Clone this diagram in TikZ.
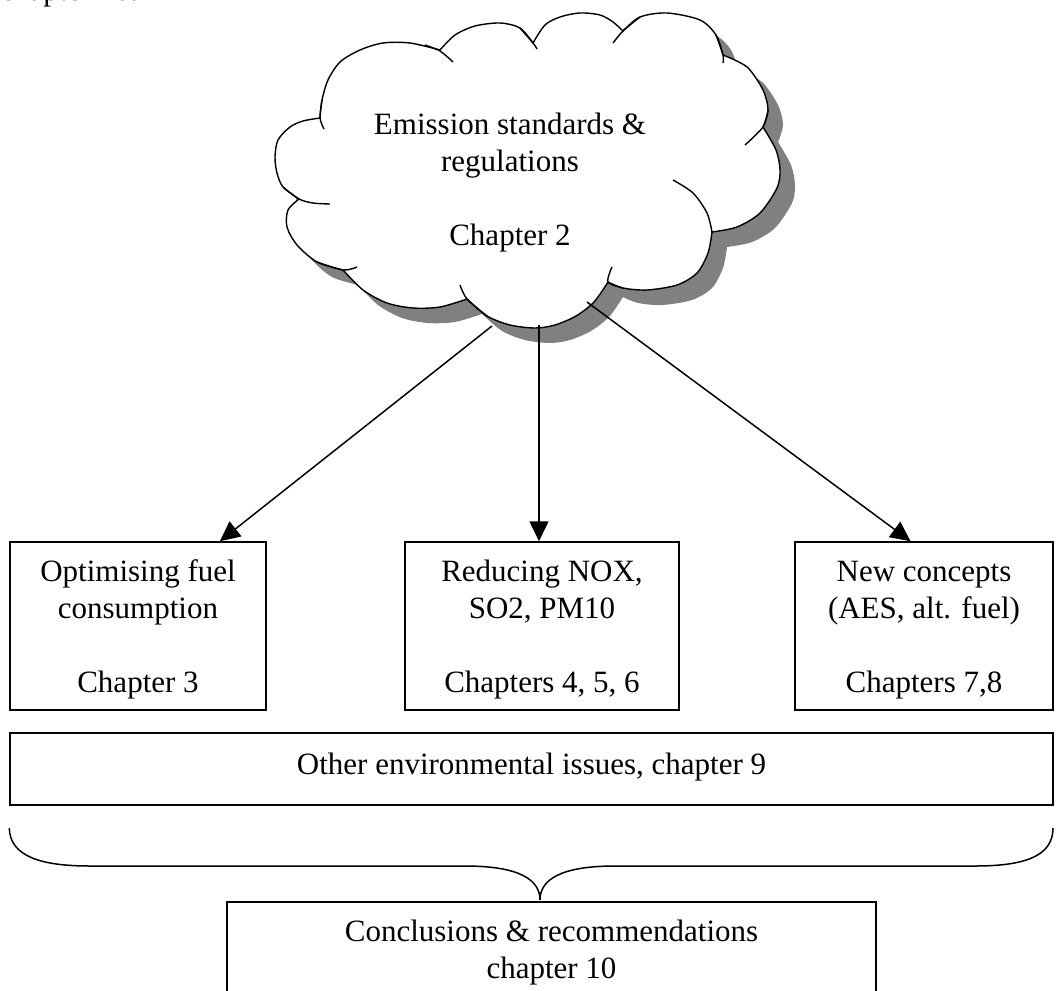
\documentclass[tikz,border=0pt]{standalone}
\usepackage{fontspec}
\setmainfont{Liberation Serif}
\usetikzlibrary{calc,positioning,arrows.meta}
\def\ShadowShift{15}
\def\CloudOutline{%
  plot[smooth] coordinates {(299,199) (283,187) (277,173) (275,157) (278,140) (290,127) (303,121) (320,118)}
  -- plot[smooth] coordinates {(320,118) (322,100) (328,80) (340,62) (360,50) (383,43) (410,43) (440,50)}
  -- plot[smooth] coordinates {(440,50) (455,35) (475,26) (500,23) (520,28) (533,43)}
  -- plot[smooth] coordinates {(533,43) (545,25) (560,17) (580,13) (600,15) (613,22) (623,31)}
  -- plot[smooth] coordinates {(623,31) (640,17) (667,13) (700,20) (716,35) (723,55)}
  -- plot[smooth] coordinates {(723,55) (747,67) (763,90) (768,110) (763,127)}
  -- plot[smooth] coordinates {(763,127) (776,150) (780,170) (777,188) (760,213) (737,227) (712,232)}
  -- plot[smooth] coordinates {(712,232) (708,253) (697,273) (677,285) (647,290) (623,288) (608,282)}
  -- plot[smooth] coordinates {(608,282) (594,302) (576,316) (555,325) (535,328) (510,325) (487,316) (467,299)}
  -- plot[smooth] coordinates {(467,299) (440,307) (413,308) (387,303) (363,290) (343,270)}
  -- plot[smooth] coordinates {(343,270) (317,262) (297,245) (287,227) (288,210) (299,199)}
  -- cycle}

\begin{document}
\begin{tikzpicture}[x=0.5pt,y=-0.5pt,
  every node/.style={font=\fontsize{15.5}{18.5}\selectfont},
  chapbox/.style={draw, line width=0.75pt, inner sep=0pt},
  boxtext/.style={align=center, inner sep=0pt},
  link/.style={line width=0.75pt, -{Triangle[length=10pt,width=9.5pt]}}]
  \path[use as bounding box, clip] (0,0) rectangle (1058,990);
  % end of the text line above
  \node[anchor=base west, inner sep=0pt] (prevline) at (0,1) {chapter 10.};
  % cloud with shadow
  \fill[black!50, shift={(\ShadowShift,\ShadowShift)}] \CloudOutline;
  \filldraw[fill=white, line width=0.7pt] \CloudOutline;
  % inner arcs of the puffs
  \begin{scope}[line width=0.7pt]
    \draw plot[smooth] coordinates {(322,100) (320,118) (324,129)};
    \draw plot[smooth] coordinates {(425,45) (440,51) (453,62)};
    \draw plot[smooth] coordinates {(520,28) (533,43) (537,49)};
    \draw plot[smooth] coordinates {(640,17) (623,31) (613,43)};
    \draw plot[smooth] coordinates {(716,35) (723,55) (723,63)};
    \draw plot[smooth] coordinates {(768,110) (763,127) (745,145)};
    \draw plot[smooth] coordinates {(673,180) (693,193) (707,213) (712,232)};
    \draw plot[smooth] coordinates {(623,288) (608,282) (612,267)};
    \draw plot[smooth] coordinates {(487,316) (467,299) (460,285)};
    \draw plot[smooth] coordinates {(317,262) (343,270) (357,267)};
    \draw plot[smooth] coordinates {(283,187) (299,199) (313,203) (330,204)};
  \end{scope}
  \node[boxtext, anchor=north] (regs) at (510,108)
    {\strut Emission standards \&\\regulations\\[18.5pt]Chapter 2};
  % chapter boxes
  \node[chapbox, minimum width=128pt, minimum height=84pt] (fuel) at (138,626) {};
  \node[chapbox, minimum width=137pt, minimum height=84pt] (nox) at (542,626) {};
  \node[chapbox, minimum width=129pt, minimum height=84pt] (concepts) at (924,626) {};
  \node[chapbox, minimum width=521.5pt, minimum height=36pt] (other) at (531.5,769) {};
  \node[chapbox, minimum width=324.5pt, minimum height=49pt] (concl) at (551.5,951) {};
  \node[boxtext, below=7pt of fuel.north] (fueltxt)
    {\strut Optimising fuel\\consumption\\[18.5pt]Chapter 3};
  \node[boxtext, below=7pt of nox.north] (noxtxt)
    {\strut Reducing NOX,\\SO2, PM10\\[18.5pt]Chapters 4, 5, 6};
  \node[boxtext, below=7pt of concepts.north] (conceptstxt)
    {\strut New concepts\\(AES, alt. fuel)\\[18.5pt]Chapters 7,8};
  \node[boxtext, below=8pt of other.north] (othertxt)
    {\strut Other environmental issues, chapter 9};
  \node[boxtext, below=7pt of concl.north] (concltxt)
    {\strut Conclusions \& recommendations\\chapter 10};
  % arrows
  \coordinate (c1) at (492,326);
  \coordinate (c2) at (539,325);
  \coordinate (c3) at (587,302);
  \draw[link] (c1) -- (fuel.46);
  \draw[link] (c2) -- (c2 |- nox.north);
  \draw[link] (c3) -- (concepts.99.5);
  % brace
  \coordinate (tip) at (540,900);
  \draw[line width=0.75pt] (other.south west |- 0,828)
    .. controls (10,856) and (40,866) .. (90,866) -- (465,866)
    .. controls (520,866) and (540,880) .. (tip)
    .. controls (540,880) and (560,866) .. (615,866) -- (975,866)
    .. controls (1025,866) and (1053,856) .. (1053,828);
\end{tikzpicture}
\end{document}
